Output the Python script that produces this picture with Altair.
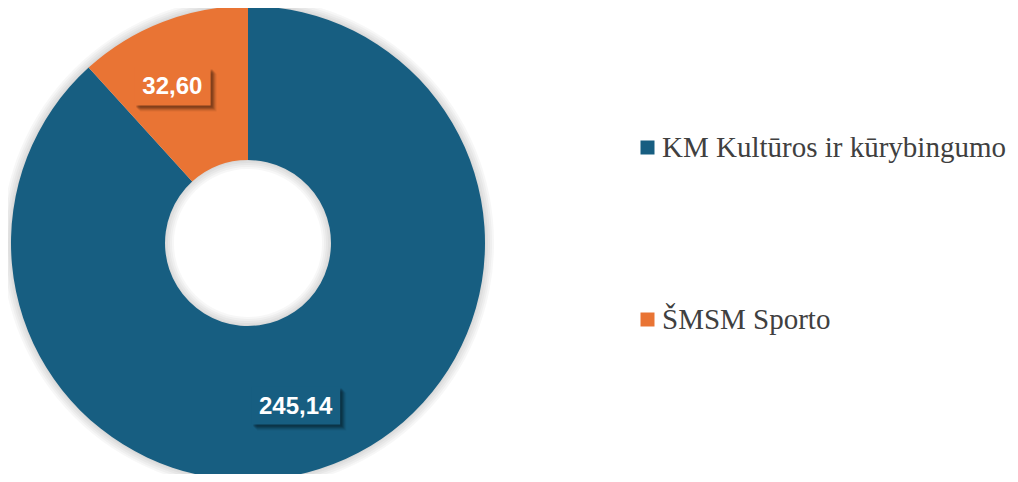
import altair as alt
import pandas as pd
import math

categories = ["KM Kultūros ir kūrybingumo", "ŠMSM Sporto"]
values = [245.14, 32.60]
value_labels = ["245,14", "32,60"]
colors = ["#175E81", "#E97434"]

W, H = 1002, 466
CX, CY = 240, 235
R_OUT, R_IN, R_LAB = 237, 83, 171
LAB_DX, LAB_DY = -14, 3

total = sum(values)
rows = []
cum = 0.0
for i, (c, v, lab) in enumerate(zip(categories, values, value_labels)):
    mid = (cum + v / 2) / total * 2 * math.pi
    cum += v
    bw = 12.5 * len(lab) + 14
    bh = 38
    rows.append({
        "cat": c, "val": v, "lab": lab, "order": i,
        "lx": R_LAB * math.sin(mid), "ly": R_LAB * math.cos(mid),
        "bsize": bw * bw,
        "bshape": f"M-1,{-bh/bw:.4f}L1,{-bh/bw:.4f}L1,{bh/bw:.4f}L-1,{bh/bw:.4f}Z",
        "bcolor": colors[i],
    })
df = pd.DataFrame(rows)
ring = pd.DataFrame({"v": [1]})

xs = alt.Scale(domain=[-CX, W - CX])
ys = alt.Scale(domain=[CY - H, CY])

glow = [
    alt.Chart(ring).mark_arc(
        innerRadius=R_IN - k, outerRadius=R_OUT + k, theta=0, theta2=6.2832,
        color="#000000", opacity=0.03,
    ).encode(x=alt.value(CX), y=alt.value(CY))
    for k in (1, 3, 5, 7, 9)
]

arcs = alt.Chart(df).mark_arc(innerRadius=R_IN, outerRadius=R_OUT, stroke=None).encode(
    x=alt.value(CX), y=alt.value(CY),
    theta=alt.Theta("val:Q", stack=True),
    order=alt.Order("order:Q"),
    color=alt.Color(
        "cat:N",
        scale=alt.Scale(domain=categories, range=colors),
        sort=categories,
        legend=alt.Legend(
            title=None, orient="none", legendX=625, legendY=125,
            symbolType="square", symbolSize=196, symbolStrokeWidth=0,
            labelFont="Liberation Serif", labelFontSize=29, labelColor="#404040",
            labelOffset=0, rowPadding=142, padding=0, labelLimit=0,
        ),
    ),
)

def box(dx, dy, color_enc, op):
    return alt.Chart(df).mark_point(
        filled=True, opacity=op, strokeWidth=0, xOffset=LAB_DX + dx, yOffset=LAB_DY + dy
    ).encode(
        x=alt.X("lx:Q", scale=xs, axis=None),
        y=alt.Y("ly:Q", scale=ys, axis=None),
        size=alt.Size("bsize:Q", scale=None, legend=None),
        shape=alt.Shape("bshape:N", scale=None, legend=None),
        color=color_enc,
    )

shadows = [box(d, d, alt.value("#000000"), op) for d, op in ((6, 0.06), (5, 0.08), (4, 0.12), (3, 0.14), (2, 0.14))]
boxes = box(0, 0, alt.Color("bcolor:N", scale=None, legend=None), 1)

texts = alt.Chart(df).mark_text(
    font="Liberation Sans", fontWeight="bold", fontSize=24, color="white",
    baseline="middle", align="center", dx=LAB_DX, dy=LAB_DY + 1,
).encode(
    x=alt.X("lx:Q", scale=xs, axis=None),
    y=alt.Y("ly:Q", scale=ys, axis=None),
    text="lab:N",
)

chart = alt.layer(*glow, arcs, *shadows, boxes, texts).properties(
    width=W, height=H, padding=0, autosize=alt.AutoSizeParams(type="none")
).configure(background="white").configure_view(stroke=None)

chart.save("out.html", embed_options={"renderer": "svg", "actions": False})
